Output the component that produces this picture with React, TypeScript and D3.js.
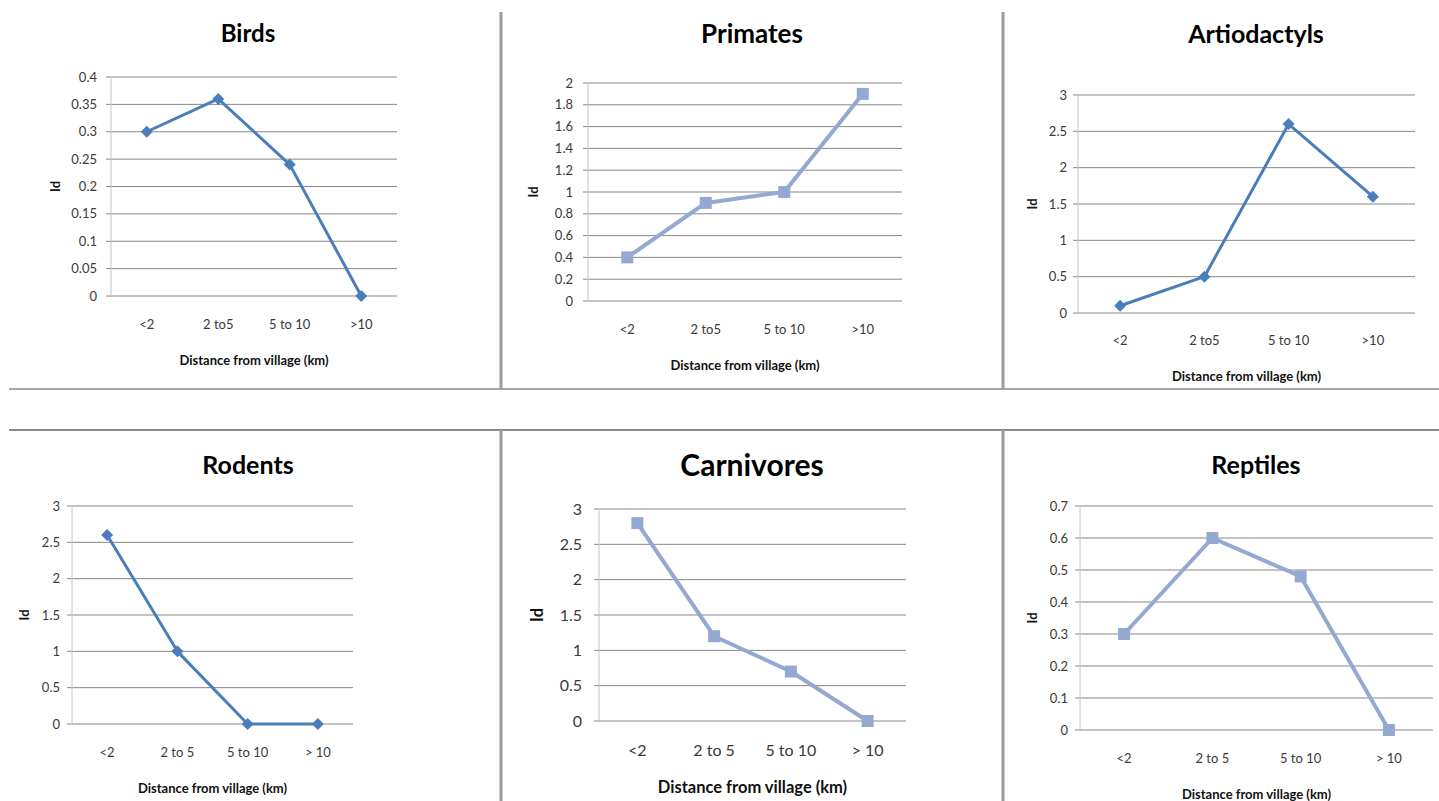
import React from "react";
import * as d3 from "d3";

// Distance classes used on the x axis
const distanceA = ["<2", "2 to5", "5 to 10", ">10"];
const distanceB = ["<2", "2 to 5", "5 to 10", "> 10"];

// Id values per taxon
const birdsId = [0.3, 0.36, 0.24, 0];
const primatesId = [0.4, 0.9, 1.0, 1.9];
const artiodactylsId = [0.1, 0.5, 2.6, 1.6];
const rodentsId = [2.6, 1.0, 0, 0];
const carnivoresId = [2.8, 1.2, 0.7, 0];
const reptilesId = [0.3, 0.6, 0.48, 0];

// y-axis ranges: [max, step]
const birdsAxis = [0.4, 0.05];
const primatesAxis = [2, 0.2];
const artiodactylsAxis = [3, 0.5];
const rodentsAxis = [3, 0.5];
const carnivoresAxis = [3, 0.5];
const reptilesAxis = [0.7, 0.1];

const DARK = "#4A7EBB";
const LIGHT = "#93A9D2";
const FONT = "Lato, 'Open Sans', sans-serif";

type PanelSpec = {
  title: string;
  cats: string[];
  values: number[];
  axis: number[];
  marker: "diamond" | "square";
  box: { l: number; r: number; t: number; b: number };
  titleX: number;
  titleY: number;
  titleSize: number;
  xLabelY: number;
  axisTitleY: number;
  idX: number;
  tickRight: number;
  tickSize: number;
  xSize: number;
  axisTitleSize: number;
};

const panels: PanelSpec[] = [
  {
    title: "Birds", cats: distanceA, values: birdsId, axis: birdsAxis, marker: "diamond",
    box: { l: 111, r: 397, t: 77, b: 296 }, titleX: 248, titleY: 42, titleSize: 24,
    xLabelY: 329, axisTitleY: 365, idX: 55, tickRight: 97, tickSize: 13, xSize: 13, axisTitleSize: 13,
  },
  {
    title: "Primates", cats: distanceA, values: primatesId, axis: primatesAxis, marker: "square",
    box: { l: 588, r: 902, t: 83, b: 301 }, titleX: 752, titleY: 43, titleSize: 26,
    xLabelY: 334, axisTitleY: 370, idX: 533, tickRight: 573, tickSize: 13, xSize: 13, axisTitleSize: 13,
  },
  {
    title: "Artiodactyls", cats: distanceA, values: artiodactylsId, axis: artiodactylsAxis, marker: "diamond",
    box: { l: 1078, r: 1415, t: 95, b: 313 }, titleX: 1256, titleY: 43, titleSize: 25,
    xLabelY: 345, axisTitleY: 381, idX: 1032, tickRight: 1067, tickSize: 13, xSize: 13, axisTitleSize: 13,
  },
  {
    title: "Rodents", cats: distanceB, values: rodentsId, axis: rodentsAxis, marker: "diamond",
    box: { l: 72, r: 353, t: 506, b: 724 }, titleX: 248, titleY: 474, titleSize: 25,
    xLabelY: 757, axisTitleY: 793, idX: 24, tickRight: 60, tickSize: 13, xSize: 13, axisTitleSize: 13,
  },
  {
    title: "Carnivores", cats: distanceB, values: carnivoresId, axis: carnivoresAxis, marker: "square",
    box: { l: 599, r: 906, t: 509, b: 721 }, titleX: 752, titleY: 476, titleSize: 30,
    xLabelY: 756, axisTitleY: 793, idX: 537, tickRight: 582, tickSize: 16, xSize: 16, axisTitleSize: 16.5,
  },
  {
    title: "Reptiles", cats: distanceB, values: reptilesId, axis: reptilesAxis, marker: "square",
    box: { l: 1080, r: 1433, t: 506, b: 730 }, titleX: 1256, titleY: 474, titleSize: 25,
    xLabelY: 763, axisTitleY: 799, idX: 1032, tickRight: 1068, tickSize: 13, xSize: 13, axisTitleSize: 13,
  },
];

const fmt = d3.format("~g");

function Panel({ p }: { p: PanelSpec }) {
  const { l, r, t, b } = p.box;
  const [yMax, step] = p.axis;
  const x = d3.scaleBand<string>().domain(p.cats).range([l, r]);
  const y = d3.scaleLinear().domain([0, yMax]).range([b, t]);
  const ticks = d3.range(0, Math.round(yMax / step) + 1).map((i) => +(i * step).toFixed(4));
  const cx = (i: number) => (x(p.cats[i]) as number) + x.bandwidth() / 2;
  const line = d3
    .line<number>()
    .x((_, i) => cx(i))
    .y((v) => y(v));
  const color = p.marker === "diamond" ? DARK : LIGHT;
  const lw = p.marker === "diamond" ? 3 : 4;
  const midY = (t + b) / 2;
  return (
    <g>
      <text x={p.titleX} y={p.titleY} textAnchor="middle" fontFamily={FONT} fontWeight="bold" fontSize={p.titleSize} fill="#000">
        {p.title}
      </text>
      {ticks.map((v) => (
        <g key={v}>
          <line x1={l - 5} x2={r} y1={y(v)} y2={y(v)} stroke="#878787" strokeWidth={1} />
          <text x={p.tickRight} y={y(v)} dy="0.35em" textAnchor="end" fontFamily={FONT} fontSize={p.tickSize} fill="#3a3a3a">
            {fmt(v)}
          </text>
        </g>
      ))}
      <line x1={l} x2={l} y1={t} y2={b} stroke="#c4c4c4" strokeWidth={1} />
      {p.cats.map((c) => (
        <text key={c} x={(x(c) as number) + x.bandwidth() / 2} y={p.xLabelY} textAnchor="middle" fontFamily={FONT} fontSize={p.xSize} fill="#3a3a3a">
          {c}
        </text>
      ))}
      <text x={(l + r) / 2} y={p.axisTitleY} textAnchor="middle" fontFamily={FONT} fontWeight="bold" fontSize={p.axisTitleSize} fill="#111">
        Distance from village (km)
      </text>
      <text transform={`translate(${p.idX},${midY}) rotate(-90)`} dy="0.35em" textAnchor="middle" fontFamily={FONT} fontWeight="bold" fontSize={p.axisTitleSize} fill="#111">
        Id
      </text>
      <path d={line(p.values) || ""} fill="none" stroke={color} strokeWidth={lw} strokeLinejoin="round" />
      {p.values.map((v, i) =>
        p.marker === "diamond" ? (
          <path key={i} transform={`translate(${cx(i)},${y(v)})`} d="M0,-6L6,0L0,6L-6,0Z" fill={color} />
        ) : (
          <rect key={i} x={cx(i) - 6} y={y(v) - 6} width={12} height={12} fill={color} />
        )
      )}
    </g>
  );
}

export default function App() {
  return (
    <svg width={1439} height={801} style={{ position: "absolute", left: 0, top: 0, background: "#fff" }}>
      {/* frame dividers between the six panels */}
      <line x1={9} x2={1439} y1={389} y2={389} stroke="#8a8a8a" strokeWidth={1.5} />
      <line x1={9} x2={1439} y1={430} y2={430} stroke="#8a8a8a" strokeWidth={2} />
      <line x1={501} x2={501} y1={12} y2={389} stroke="#9a9a9a" strokeWidth={3} />
      <line x1={1003} x2={1003} y1={12} y2={389} stroke="#9a9a9a" strokeWidth={3} />
      <line x1={501} x2={501} y1={430} y2={801} stroke="#9a9a9a" strokeWidth={3} />
      <line x1={1003} x2={1003} y1={430} y2={801} stroke="#9a9a9a" strokeWidth={3} />
      {panels.map((p) => (
        <Panel key={p.title} p={p} />
      ))}
    </svg>
  );
}
